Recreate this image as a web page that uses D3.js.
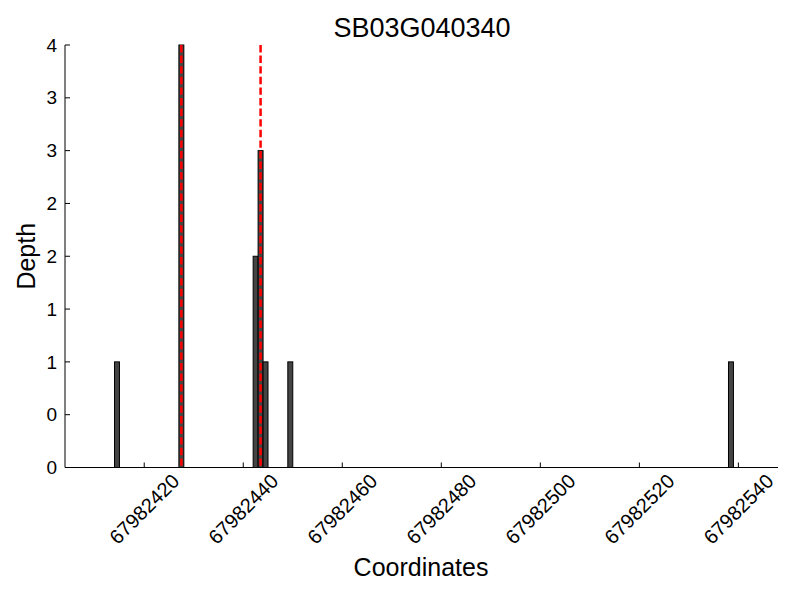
<!DOCTYPE html>
<html lang="en">
  <head>
    <meta charset="utf-8">
    <title>SB03G040340</title>
    <script src="https://d3js.org/d3.v7.min.js"></script>
    <style>
      body { margin: 0; background: #fff; }
      text { font-family: "Liberation Sans", Arial, Helvetica, sans-serif; fill: #000; }
    </style>
  </head>
  <body>
    <script>

      var positions = [67982414, 67982427, 67982442, 67982443, 67982444, 67982449, 67982538]
      var depths    = [1, 4, 2, 3, 1, 1, 1]
      var markers   = [67982427.5, 67982443.5]
      var xTicks    = [67982420, 67982440, 67982460, 67982480, 67982500, 67982520, 67982540]
      var yTicks    = [0, 0.5, 1, 1.5, 2, 2.5, 3, 3.5, 4]

      var plotLeft = 65, plotRight = 778, plotTop = 45, plotBottom = 467.5

      var svg = d3.select("body").append("svg")
                  .attr("width", 800)
                  .attr("height", 600);

      var x = d3.scaleLinear().domain([67982404, 67982548]).range([plotLeft, plotRight])
      var y = d3.scaleLinear().domain([0, 4]).range([plotBottom, plotTop])

      // bars, one coordinate wide
      svg.selectAll("rect.bar")
         .data(positions)
         .enter().append("rect")
         .attr("class", "bar")
         .attr("x", function(d) { return x(d); })
         .attr("width", function(d) { return x(d + 1) - x(d); })
         .attr("y", function(d, i) { return y(depths[i]); })
         .attr("height", function(d, i) { return y(0) - y(depths[i]); })
         .style("fill", "#444444")
         .style("stroke", "#000")
         .style("stroke-width", 1);

      // red dashed markers
      svg.selectAll("line.marker")
         .data(markers)
         .enter().append("line")
         .attr("x1", function(d) { return x(d); })
         .attr("x2", function(d) { return x(d); })
         .attr("y1", y(4))
         .attr("y2", y(0))
         .style("stroke", "#ff0000")
         .style("stroke-width", 2.5)
         .style("stroke-dasharray", "7.4,3.2");

      // spines
      svg.append("line").attr("x1", plotLeft).attr("x2", plotLeft).attr("y1", plotTop).attr("y2", plotBottom)
         .style("stroke", "#000").style("stroke-width", 1);
      svg.append("line").attr("x1", plotLeft).attr("x2", plotRight).attr("y1", plotBottom).attr("y2", plotBottom)
         .style("stroke", "#000").style("stroke-width", 1);

      // y ticks (inward) and truncated labels
      var yt = svg.selectAll("g.yt").data(yTicks).enter().append("g")
                  .attr("transform", function(d) { return "translate(0," + y(d) + ")"; });
      yt.append("line").attr("x1", plotLeft).attr("x2", plotLeft + 5)
        .style("stroke", "#000").style("stroke-width", 1);
      yt.append("text")
        .attr("x", plotLeft - 8)
        .attr("dy", "0.35em")
        .attr("text-anchor", "end")
        .style("font-size", "19px")
        .text(function(d) { return Math.floor(d); });

      // x ticks (inward) and rotated labels
      var xt = svg.selectAll("g.xt").data(xTicks).enter().append("g")
                  .attr("transform", function(d) { return "translate(" + x(d) + ",0)"; });
      xt.append("line").attr("y1", plotBottom).attr("y2", plotBottom - 5)
        .style("stroke", "#000").style("stroke-width", 1);
      xt.append("text")
        .attr("transform", "translate(0,509) rotate(-45)")
        .attr("text-anchor", "middle")
        .attr("dy", "0.35em")
        .style("font-size", "20px")
        .text(function(d) { return d; });

      // title and axis labels
      svg.append("text")
         .attr("x", 422).attr("y", 37)
         .attr("text-anchor", "middle")
         .style("font-size", "27px")
         .text("SB03G040340");

      svg.append("text")
         .attr("x", 421).attr("y", 576)
         .attr("text-anchor", "middle")
         .style("font-size", "25px")
         .text("Coordinates");

      svg.append("text")
         .attr("transform", "translate(35," + ((plotTop + plotBottom) / 2) + ") rotate(-90)")
         .attr("text-anchor", "middle")
         .style("font-size", "25px")
         .text("Depth");

    </script>
  </body>
</html>
